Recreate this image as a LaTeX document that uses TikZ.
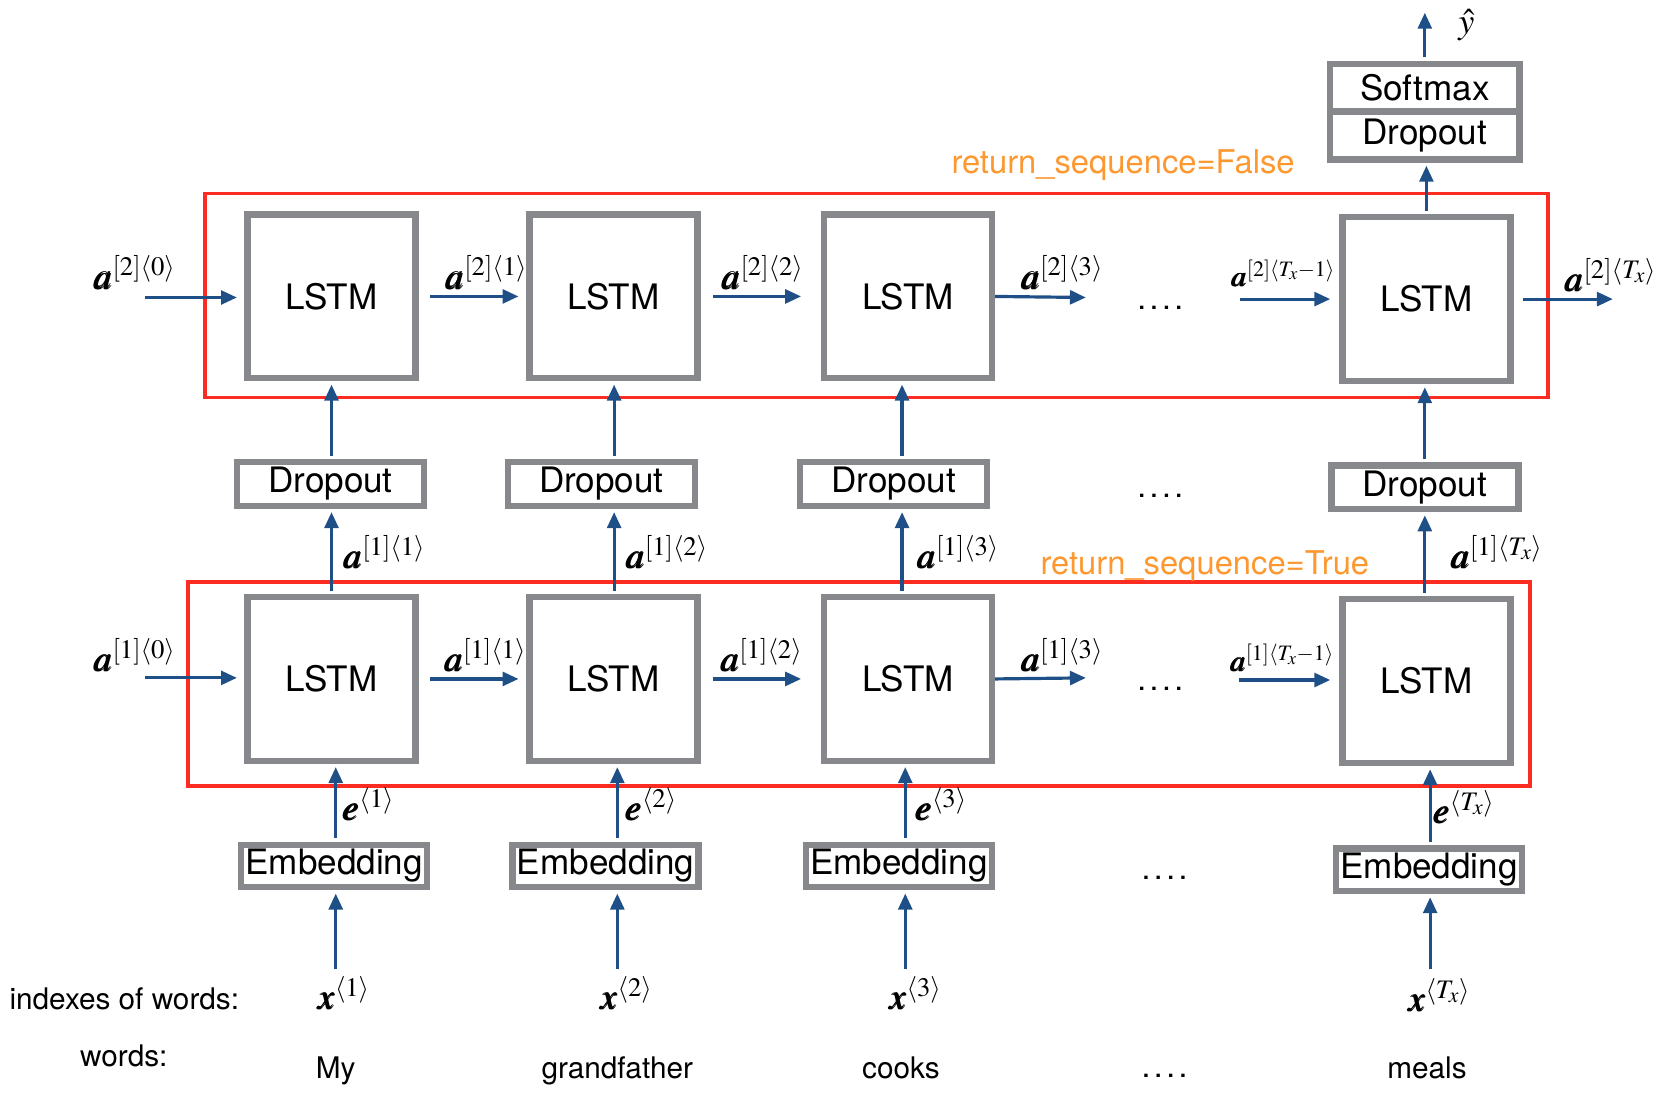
\documentclass[tikz,border=0pt]{standalone}
\usepackage{mathptmx}
\usepackage{amsmath}
\usepackage[no-math]{fontspec}
\setmainfont{TeX Gyre Heros}
\usetikzlibrary{arrows.meta}

\definecolor{boxgray}{RGB}{134,136,140}
\definecolor{framered}{RGB}{252,44,34}
\definecolor{arrowblue}{RGB}{30,80,135}
\definecolor{noteorange}{RGB}{253,152,48}

\newcommand{\bfa}{\pmb{a}}
\newcommand{\bfe}{\pmb{e}}
\newcommand{\bfx}{\pmb{x}}
\newcommand{\tstep}[1]{\langle #1\rangle}
\newcommand{\gapdots}{.\kern3.3pt.\kern3.3pt.\kern3.3pt.}

\begin{document}
\begin{tikzpicture}
  [x=1pt,y=-1pt,
   lstm/.style={draw=boxgray,line width=6pt,minimum width=158pt,minimum height=154pt,inner sep=0pt,font=\fontsize{33}{36}\selectfont},
   layer/.style={draw=boxgray,line width=6pt,minimum width=176pt,minimum height=41pt,inner sep=0pt,font=\fontsize{33}{36}\selectfont},
   redframe/.style={draw=framered,line width=3.5pt},
   arr/.style={color=arrowblue,line width=3pt,-{Triangle[length=15pt,width=13pt]},shorten <=3pt,shorten >=3pt},
   lbl/.style={inner sep=0pt,anchor=base,font=\fontsize{34}{37}\selectfont},
   slbl/.style={inner sep=0pt,anchor=base,font=\fontsize{28}{32}\selectfont},
   words/.style={inner sep=0pt,anchor=base,font=\fontsize{28}{32}\selectfont},
   note/.style={inner sep=0pt,anchor=base,text=noteorange,font=\fontsize{30.8}{34}\selectfont},
   gap/.style={inner sep=0pt,anchor=base,font=\fontsize{30}{34}\selectfont}]
  \useasboundingbox (0,0) rectangle (1568,1030);

  % Marcos rojos de las dos capas
  \draw[redframe] (193,182) rectangle (1457,374);
  \draw[redframe] (177,548) rectangle (1440,740);

  % Capa LSTM superior
  \node[lstm] (lt1) at (312,279) {LSTM};
  \node[lstm] (lt2) at (577.5,279) {LSTM};
  \node[lstm] (lt3) at (854.5,279) {LSTM};
  \node[lstm] (lt4) at (1342.5,281.5) {LSTM};

  % Capa LSTM inferior
  \node[lstm] (lb1) at (312,639) {LSTM};
  \node[lstm] (lb2) at (577.5,639) {LSTM};
  \node[lstm] (lb3) at (854.5,639) {LSTM};
  \node[lstm] (lb4) at (1342.5,641) {LSTM};

  % Dropout entre capas
  \node[layer] (d1) at (311,455.5) {Dropout};
  \node[layer] (d2) at (566,455.5) {Dropout};
  \node[layer] (d3) at (841,455.5) {Dropout};
  \node[layer] (d4) at (1341,458.5) {Dropout};

  % Embedding
  \node[layer,minimum width=175pt,minimum height=40pt] (e1) at (314.5,815) {Embedding};
  \node[layer,minimum width=175pt,minimum height=40pt] (e2) at (570,815) {Embedding};
  \node[layer,minimum width=175pt,minimum height=40pt] (e3) at (846,815) {Embedding};
  \node[layer,minimum width=175pt,minimum height=40pt] (e4) at (1345,818.5) {Embedding};

  % Salida
  \node[layer,minimum width=178pt,minimum height=45pt] (dout) at (1341,127.5) {Dropout};
  \node[layer,minimum width=178pt,minimum height=45pt] (smax) at (1341,82.5) {Softmax};
  \coordinate (yout) at (1341,12);
  \node[lbl] (yhat) at (1380,32) {$\hat{y}$};

  % Flechas verticales por columna
  \foreach \c/\xu/\xe in {1/312/316, 2/578/581, 3/849/852, 4/1341/1346} {
    \coordinate (cu\c) at (\xu,0);
    \coordinate (ce\c) at (\xe,0);
    \coordinate (xs\c) at (\xe,912);
    \draw[arr] (cu\c |- d\c.north) -- (cu\c |- lt\c.south);
    \draw[arr] (cu\c |- lb\c.north) -- (cu\c |- d\c.south);
    \draw[arr] (ce\c |- e\c.north) -- (ce\c |- lb\c.south);
    \draw[arr,shorten <=0pt] (xs\c) -- (ce\c |- e\c.south);
  }
  \draw[arr] (lt4.north) -- (lt4.north |- dout.south);
  \draw[arr,shorten >=0pt] (smax.north) -- (yout);

  % Flechas horizontales, capa superior
  \coordinate (in2) at (136,280);
  \coordinate (o23) at (1022,280);
  \coordinate (in24) at (1167,281.5);
  \coordinate (o24) at (1518,281.5);
  \draw[arr,shorten <=0pt,shorten >=7pt] (in2) -- (in2 -| lt1.west);
  \draw[arr,shorten <=11pt,shorten >=7.5pt] (lt1.east) -- (lt2.west);
  \draw[arr,shorten <=11.5pt,shorten >=18.5pt] (lt2.east) -- (lt3.west);
  \draw[arr,shorten <=0pt,shorten >=0pt] (lt3.east) -- (o23);
  \draw[arr,shorten <=0pt,shorten >=8.5pt] (in24) -- (lt4.west);
  \draw[arr,shorten <=8.5pt,shorten >=0pt] (lt4.east) -- (o24);

  % Flechas horizontales, capa inferior
  \coordinate (in1) at (136,638);
  \coordinate (o13) at (1022,638);
  \coordinate (in14) at (1166,640);
  \draw[arr,shorten <=0pt,shorten >=7pt] (in1) -- (in1 -| lb1.west);
  \draw[arr,shorten <=11pt,shorten >=7.5pt] (lb1.east) -- (lb2.west);
  \draw[arr,shorten <=11.5pt,shorten >=18.5pt] (lb2.east) -- (lb3.west);
  \draw[arr,shorten <=0pt,shorten >=0pt] (lb3.east) -- (o13);
  \draw[arr,shorten <=0pt,shorten >=8.5pt] (in14) -- (in14 -| lb4.west);

  % Etiquetas de activaciones
  \node[lbl] (a20) at (127,272) {$\bfa^{[2]\tstep{0}}$};
  \node[lbl] (a21) at (458,272) {$\bfa^{[2]\tstep{1}}$};
  \node[lbl] (a22) at (718,272) {$\bfa^{[2]\tstep{2}}$};
  \node[lbl] (a23) at (1000,272) {$\bfa^{[2]\tstep{3}}$};
  \node[slbl] (a2t1) at (1208,270) {$\bfa^{[2]\tstep{T_x-1}}$};
  \node[lbl] (a2t) at (1516,274) {$\bfa^{[2]\tstep{T_x}}$};
  \node[lbl] (a10) at (127,632) {$\bfa^{[1]\tstep{0}}$};
  \node[lbl] (a11) at (457,632) {$\bfa^{[1]\tstep{1}}$};
  \node[lbl] (a12) at (717,632) {$\bfa^{[1]\tstep{2}}$};
  \node[lbl] (a13) at (1000,632) {$\bfa^{[1]\tstep{3}}$};
  \node[slbl] (a1t1) at (1207,632) {$\bfa^{[1]\tstep{T_x-1}}$};
  \node[lbl] (u11) at (362,535) {$\bfa^{[1]\tstep{1}}$};
  \node[lbl] (u12) at (628,535) {$\bfa^{[1]\tstep{2}}$};
  \node[lbl] (u13) at (902,535) {$\bfa^{[1]\tstep{3}}$};
  \node[lbl] (u1t) at (1409,535) {$\bfa^{[1]\tstep{T_x}}$};

  % Etiquetas e y x
  \node[lbl] (em1) at (347,772) {$\bfe^{\tstep{1}}$};
  \node[lbl] (em2) at (613,772) {$\bfe^{\tstep{2}}$};
  \node[lbl] (em3) at (886,772) {$\bfe^{\tstep{3}}$};
  \node[lbl] (em4) at (1378,775) {$\bfe^{\tstep{T_x}}$};
  \node[lbl] (x1) at (324,950) {$\bfx^{\tstep{1}}$};
  \node[lbl] (x2) at (590,950) {$\bfx^{\tstep{2}}$};
  \node[lbl] (x3) at (862,950) {$\bfx^{\tstep{3}}$};
  \node[lbl] (x4) at (1355,952) {$\bfx^{\tstep{T_x}}$};

  % Puntos suspensivos
  \node[gap] (g1) at (1092,291) {\gapdots};
  \node[gap] (g2) at (1092,468) {\gapdots};
  \node[gap] (g3) at (1092,650) {\gapdots};
  \node[gap] (g4) at (1096,828) {\gapdots};
  \node[gap] (g5) at (1096,1014) {\gapdots};

  % Notas en naranja
  \node[note] (nf) at (1057,163) {return\_sequence=False};
  \node[note] (nt) at (1134,541) {return\_sequence=True};

  % Filas de texto inferiores
  \node[words] (idx) at (117,950) {indexes of words:};
  \node[words] (wrd) at (116.5,1004) {words:};
  \node[words] (w1) at (316,1015) {My};
  \node[words] (w2) at (581,1015) {grandfather};
  \node[words] (w3) at (848,1015) {cooks};
  \node[words] (w4) at (1343,1015) {meals};

\end{tikzpicture}
\end{document}
